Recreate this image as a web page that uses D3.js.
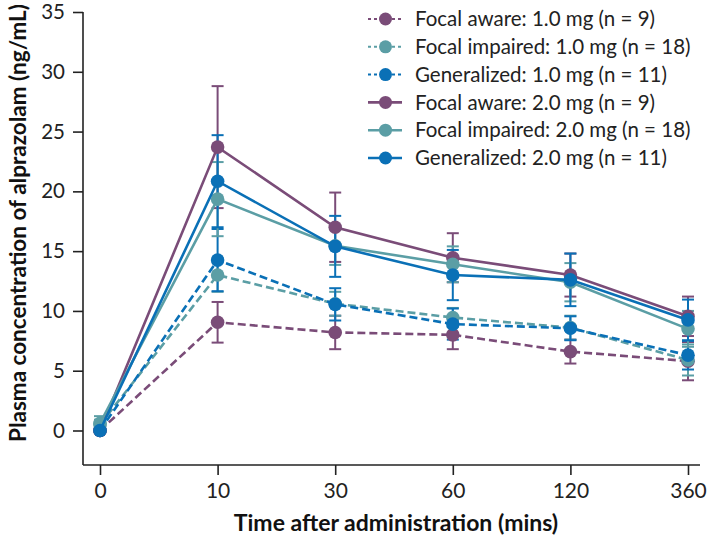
<!DOCTYPE html>
<html>
<head>
<meta charset="utf-8">
<script src="https://cdn.jsdelivr.net/npm/d3@7"></script>
<style>
  html, body { margin: 0; padding: 0; background: #fff; }
  svg { display: block; font-family: Lato, "Open Sans", sans-serif; }
</style>
</head>
<body>
<svg id="chart" width="709" height="540"></svg>
<script>
// ---- data ----
const timeLabels = ["0", "10", "30", "60", "120", "360"];
const yTicks = [0, 5, 10, 15, 20, 25, 30, 35];

const seriesNames = [
  "Focal aware: 1.0 mg (n = 9)",
  "Focal impaired: 1.0 mg (n = 18)",
  "Generalized: 1.0 mg (n = 11)",
  "Focal aware: 2.0 mg (n = 9)",
  "Focal impaired: 2.0 mg (n = 18)",
  "Generalized: 2.0 mg (n = 11)"
];
const focalAware1 = [0, 9.05, 8.2, 8.0, 6.6, 5.8];
const focalAware1Err = [0, 1.7, 1.4, 1.2, 1.0, 1.6];
const focalImpaired1 = [0.5, 13.0, 10.6, 9.45, 8.6, 5.9];
const focalImpaired1Err = [0.4, 1.4, 1.0, 0.8, 1.0, 1.3];
const generalized1 = [0, 14.25, 10.55, 8.9, 8.55, 6.3];
const generalized1Err = [0, 2.6, 1.35, 1.3, 1.0, 1.2];
const focalAware2 = [0, 23.7, 17.0, 14.45, 13.0, 9.55];
const focalAware2Err = [0, 5.1, 2.9, 2.05, 1.8, 1.65];
const focalImpaired2 = [0.6, 19.35, 15.45, 13.9, 12.4, 8.5];
const focalImpaired2Err = [0.6, 3.1, 1.6, 1.5, 1.6, 1.5];
const generalized2 = [0, 20.85, 15.4, 13.0, 12.6, 9.25];
const generalized2Err = [0, 3.85, 2.55, 2.1, 2.2, 1.7];

const colors = { aware: "#7a4c78", impaired: "#5b9ea5", general: "#0a70b6" };

const series = [
  { name: seriesNames[0], values: focalAware1, err: focalAware1Err, color: colors.aware, dashed: true },
  { name: seriesNames[1], values: focalImpaired1, err: focalImpaired1Err, color: colors.impaired, dashed: true },
  { name: seriesNames[2], values: generalized1, err: generalized1Err, color: colors.general, dashed: true },
  { name: seriesNames[3], values: focalAware2, err: focalAware2Err, color: colors.aware, dashed: false },
  { name: seriesNames[4], values: focalImpaired2, err: focalImpaired2Err, color: colors.impaired, dashed: false },
  { name: seriesNames[5], values: generalized2, err: generalized2Err, color: colors.general, dashed: false }
];

// ---- layout ----
const svg = d3.select("#chart");
const axisX = 83, axisY = 465;
const x = d3.scalePoint().domain(timeLabels).range([100, 688]);
const y = d3.scaleLinear().domain([0, 35]).range([430.5, 12]);

// y axis
const yAxisG = svg.append("g").attr("transform", `translate(${axisX},0)`)
  .call(d3.axisLeft(y).tickValues(yTicks).tickSize(10).tickPadding(8).tickSizeOuter(0));
yAxisG.select(".domain").remove();
yAxisG.append("line").attr("x1", 0).attr("x2", 0).attr("y1", y(35)).attr("y2", axisY)
  .attr("stroke", "#222").attr("stroke-width", 1.6);
yAxisG.selectAll(".tick line").attr("stroke", "#222").attr("stroke-width", 1.6);
yAxisG.selectAll(".tick text").attr("font-size", 20.5).attr("fill", "#222").attr("font-family", "Lato, sans-serif");

// x axis
const xAxisG = svg.append("g").attr("transform", `translate(0,${axisY})`)
  .call(d3.axisBottom(x).tickSize(10).tickPadding(8).tickSizeOuter(0));
xAxisG.select(".domain").remove();
xAxisG.append("line").attr("x1", axisX).attr("x2", x("360") + 12).attr("y1", 0).attr("y2", 0)
  .attr("stroke", "#222").attr("stroke-width", 1.6);
xAxisG.selectAll(".tick line").attr("stroke", "#222").attr("stroke-width", 1.6);
xAxisG.selectAll(".tick text").attr("font-size", 21).attr("fill", "#222").attr("font-family", "Lato, sans-serif");

// titles
svg.append("text").attr("x", 396).attr("y", 531).attr("text-anchor", "middle")
  .attr("font-size", 23).attr("font-weight", "bold").attr("fill", "#111")
  .text("Time after administration (mins)");
svg.append("text").attr("transform", `translate(26,${223}) rotate(-90)`).attr("text-anchor", "middle")
  .attr("font-size", 22.5).attr("font-weight", "bold").attr("fill", "#111")
  .text("Plasma concentration of alprazolam (ng/mL)");

// error bars
const plot = svg.append("g");
const capW = 6;
series.forEach(s => {
  const g = plot.append("g");
  s.values.forEach((v, i) => {
    const e = s.err[i];
    if (e <= 0) return;
    const cx = x(timeLabels[i]);
    g.append("line").attr("x1", cx).attr("x2", cx).attr("y1", y(v - e)).attr("y2", y(v + e))
      .attr("stroke", s.color).attr("stroke-width", 2);
    [v - e, v + e].forEach(t => {
      g.append("line").attr("x1", cx - capW).attr("x2", cx + capW).attr("y1", y(t)).attr("y2", y(t))
        .attr("stroke", s.color).attr("stroke-width", 2);
    });
  });
});

// lines and points
const line = d3.line().x((d, i) => x(timeLabels[i])).y(d => y(d));
series.forEach(s => {
  plot.append("path").datum(s.values).attr("d", line).attr("fill", "none")
    .attr("stroke", s.color).attr("stroke-width", 2.6)
    .attr("stroke-dasharray", s.dashed ? "8,4" : null);
  plot.selectAll(null).data(s.values).enter().append("circle")
    .attr("cx", (d, i) => x(timeLabels[i])).attr("cy", d => y(d)).attr("r", 6.8)
    .attr("fill", s.color);
});

// legend
const legend = svg.append("g");
series.forEach((s, i) => {
  const ly = 19 + i * 27.8;
  const g = legend.append("g").attr("transform", `translate(0,${ly})`);
  g.append("line").attr("x1", 368).attr("x2", 402).attr("y1", 0).attr("y2", 0)
    .attr("stroke", s.color).attr("stroke-width", s.dashed ? 2 : 2.6)
    .attr("stroke-dasharray", s.dashed ? "3,3" : null);
  g.append("circle").attr("cx", 385.5).attr("cy", 0).attr("r", 6.5).attr("fill", s.color);
  g.append("text").attr("x", 415).attr("y", 0).attr("dy", "0.35em")
    .attr("font-size", 20.5).attr("fill", "#222").text(s.name);
});
</script>
</body>
</html>
